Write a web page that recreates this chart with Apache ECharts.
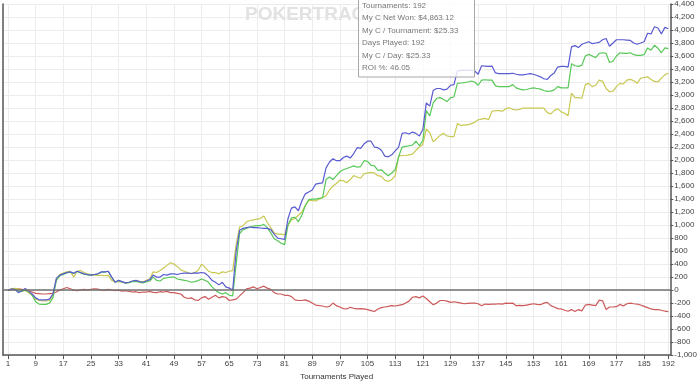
<!DOCTYPE html>
<html>
<head>
<meta charset="utf-8">
<script src="https://cdn.jsdelivr.net/npm/echarts@6/dist/echarts.min.js"></script>
<style>
html,body{margin:0;padding:0;background:#fff;}
#chart{width:700px;height:386px;}
</style>
</head>
<body>
<div id="chart"></div>
<script>
const xTickValues = [1,9,17,25,33,41,49,57,65,73,81,89,97,105,113,121,129,137,145,153,161,169,177,185,192];

const blueValues = [
0,15,10,-40,-10,25,-20,-60,
-120,-150,-150,-150,-140,-60,180,230,
250,270,280,260,290,270,250,240,
230,240,250,280,280,290,200,120,
150,130,110,120,140,150,130,120,
140,160,230,200,200,240,230,250,
250,240,255,260,260,255,265,260,
270,260,215,150,120,80,120,50,
30,0,600,920,950,960,970,960,
960,955,950,950,930,860,800,790,
780,1100,1260,1280,1220,1370,1480,1510,
1540,1630,1640,1650,1880,1970,2020,1990,
1990,2040,2060,2030,2100,2190,2180,2250,
2290,2290,2200,2190,2150,2060,2050,2080,
2140,2200,2410,2420,2400,2430,2410,2370,
2470,2880,2830,3070,3100,3100,3080,3090,
3150,3160,3370,3380,3380,3380,3385,3370,
3320,3450,3445,3440,3445,3340,3330,3330,
3330,3330,3335,3320,3310,3310,3320,3330,
3320,3300,3280,3250,3240,3300,3340,3430,
3440,3440,3430,3740,3760,3730,3780,3800,
3820,3790,3800,3810,3850,3870,3750,3800,
3850,3850,3850,3845,3840,3800,3780,3800,
3820,3950,3940,4050,4030,3940,4040,4020];

const greenValues = [
0,10,5,-20,-20,0,-20,-80,
-180,-215,-220,-220,-200,-120,150,220,
240,265,275,255,285,265,245,235,
225,240,250,275,275,290,195,120,
145,125,105,115,130,135,120,110,
125,140,200,150,140,180,190,200,
200,170,160,150,140,120,130,145,
170,150,120,50,0,-40,-60,-40,
-80,-90,400,870,930,950,970,985,
990,990,1010,960,880,790,760,720,
700,1000,1110,1120,1050,1150,1300,1390,
1400,1400,1410,1420,1700,1740,1700,1760,
1820,1850,1870,1890,1910,1890,1900,1990,
1980,1920,1910,1840,1850,1800,1760,1800,
1850,2050,2200,2210,2220,2230,2290,2220,
2300,2760,2680,2880,2950,2960,2930,2900,
2960,2970,3180,3185,3190,3200,3215,3200,
3150,3230,3235,3230,3230,3140,3130,3130,
3130,3130,3160,3110,3090,3080,3085,3100,
3110,3100,3090,3070,3055,3060,3080,3130,
3110,3110,3110,3480,3450,3440,3460,3600,
3625,3600,3575,3640,3650,3640,3500,3520,
3600,3650,3640,3640,3650,3620,3610,3610,
3620,3725,3690,3765,3720,3650,3725,3715];

const yellowValues = [
0,20,25,20,0,-10,-40,-80,
-140,-160,-165,-165,-160,-80,170,240,
260,280,290,200,290,300,270,250,
240,230,225,225,220,225,150,130,
130,120,110,115,140,145,135,125,
150,170,280,270,300,340,380,420,
400,360,310,290,270,255,270,300,
400,350,290,270,270,250,280,270,
290,300,700,970,990,1050,1070,1080,
1090,1100,1140,1040,960,880,860,860,
850,1000,1080,1100,1150,1200,1300,1380,
1380,1370,1400,1420,1450,1540,1600,1640,
1690,1680,1650,1700,1760,1740,1720,1790,
1800,1810,1800,1760,1750,1690,1670,1700,
1760,2060,2070,2070,2080,2090,2150,2200,
2240,2480,2420,2280,2330,2380,2410,2370,
2360,2360,2560,2530,2540,2540,2560,2580,
2620,2630,2640,2620,2750,2760,2760,2750,
2790,2805,2780,2770,2780,2800,2800,2800,
2800,2800,2800,2800,2730,2710,2760,2790,
2740,2720,2680,3030,2960,2960,2950,3160,
3180,3130,3150,3230,3210,3100,3050,3060,
3130,3180,3170,3230,3240,3220,3180,3260,
3270,3280,3240,3210,3200,3260,3310,3340];

const redValues = [
0,15,20,20,10,0,-10,-30,
-50,-55,-60,-60,-55,-50,-30,0,
20,40,20,0,-10,0,10,0,
10,20,15,0,-5,10,0,-10,
0,-15,-10,-20,-30,-25,-40,-30,
-30,-20,-35,-40,-25,-30,-20,-40,
-40,-50,-60,-110,-130,-120,-150,-160,
-120,-100,-140,-110,-80,-120,-100,-110,
-160,-150,-140,-90,-40,20,30,50,
20,40,60,30,10,-40,-60,-60,
-80,-80,-100,-150,-160,-160,-150,-170,
-200,-230,-240,-245,-260,-250,-200,-240,
-260,-285,-290,-265,-280,-290,-285,-290,
-300,-315,-330,-290,-270,-260,-250,-240,
-245,-235,-225,-200,-170,-110,-100,-120,
-90,-130,-180,-225,-200,-160,-160,-170,
-190,-180,-190,-200,-210,-205,-200,-200,
-210,-240,-215,-220,-215,-215,-210,-215,
-200,-205,-200,-240,-235,-240,-230,-220,
-210,-220,-225,-200,-190,-240,-260,-285,
-290,-310,-325,-300,-330,-300,-320,-230,
-220,-230,-240,-155,-165,-300,-260,-260,
-255,-220,-245,-210,-200,-210,-215,-230,
-250,-270,-290,-300,-300,-310,-325,-330];

const tooltipLines = [
  'Tournaments: 192',
  'My C Net Won: $4,863.12',
  'My C / Tournament: $25.33',
  'Days Played: 192',
  'My C / Day: $25.33',
  'ROI %: 46.05'
];
const xAxisName = 'Tournaments Played';
const watermark = 'POKERTRACKER';

const FONT = '"Liberation Sans", Arial, sans-serif';
const toPairs = arr => arr.map((v, i) => [i + 1, v]);

const chart = echarts.init(document.getElementById('chart'), null, {renderer: 'canvas'});

function lineSeries(name, values, color, extra) {
  return Object.assign({
    name: name,
    type: 'line',
    data: toPairs(values),
    showSymbol: false,
    symbol: 'none',
    animation: false,
    lineStyle: {color: color, width: 1.2},
    itemStyle: {color: color},
    z: 3
  }, extra || {});
}

chart.setOption({
  animation: false,
  backgroundColor: '#ffffff',
  grid: {left: 3, right: 27.5, top: -2, bottom: 25.5, containLabel: false},
  xAxis: {
    type: 'value',
    min: -0.44,
    max: 192.58,
    name: xAxisName,
    nameLocation: 'middle',
    nameGap: 15,
    nameTextStyle: {color: '#333', fontSize: 8, fontFamily: FONT},
    axisLine: {show: true, onZero: false, lineStyle: {color: '#555', width: 1.5}},
    axisTick: {show: true, customValues: xTickValues, length: 4, lineStyle: {color: '#555'}},
    axisLabel: {customValues: xTickValues, color: '#444', fontSize: 8, fontFamily: FONT, margin: 5},
    splitLine: {show: true, lineStyle: {color: '#ececec', width: 1}}
  },
  yAxis: [{
    type: 'value',
    position: 'right',
    min: -1000,
    max: 4400,
    interval: 200,
    axisLine: {show: true, onZero: false, lineStyle: {color: '#555', width: 1.5}},
    axisTick: {show: true, length: 3, lineStyle: {color: '#555'}},
    axisLabel: {
      color: '#444', fontSize: 8, fontFamily: FONT, margin: 4,
      formatter: v => v.toLocaleString('en-US')
    },
    splitLine: {show: true, lineStyle: {color: '#ececec', width: 1}}
  }, {
    type: 'value',
    position: 'left',
    min: -1000,
    max: 4400,
    interval: 200,
    axisLine: {show: true, onZero: false, lineStyle: {color: '#555', width: 1.5}},
    axisTick: {show: false},
    axisLabel: {show: false},
    splitLine: {show: false}
  }],
  series: [
    lineSeries('Red', redValues, '#cc5a5a', {
      markLine: {
        silent: true,
        symbol: ['none', 'none'],
        label: {show: false},
        lineStyle: {color: '#707070', width: 1.5, type: 'solid'},
        data: [{yAxis: 0}],
        animation: false
      }
    }),
    lineSeries('Yellow', yellowValues, '#c8c854'),
    lineSeries('Green', greenValues, '#58c858'),
    lineSeries('Blue', blueValues, '#5a5ad2')
  ],
  graphic: [
    {
      type: 'text',
      x: 245,
      y: 5,
      z: 1,
      style: {text: watermark, font: 'bold 19px ' + FONT, fill: '#e2e2e2'}
    },
    {
      type: 'rect',
      x: 358.5,
      y: -1.5,
      z: 100,
      shape: {x: 0, y: 0, width: 116, height: 78.5},
      style: {fill: 'rgba(255,255,255,0.8)', stroke: '#a8a8a8', lineWidth: 1}
    },
    {
      type: 'text',
      x: 362,
      y: -0.5,
      z: 101,
      style: {text: tooltipLines.join('\n'), font: '8px ' + FONT, fill: '#787878', lineHeight: 12.5}
    }
  ]
});
</script>
</body>
</html>
